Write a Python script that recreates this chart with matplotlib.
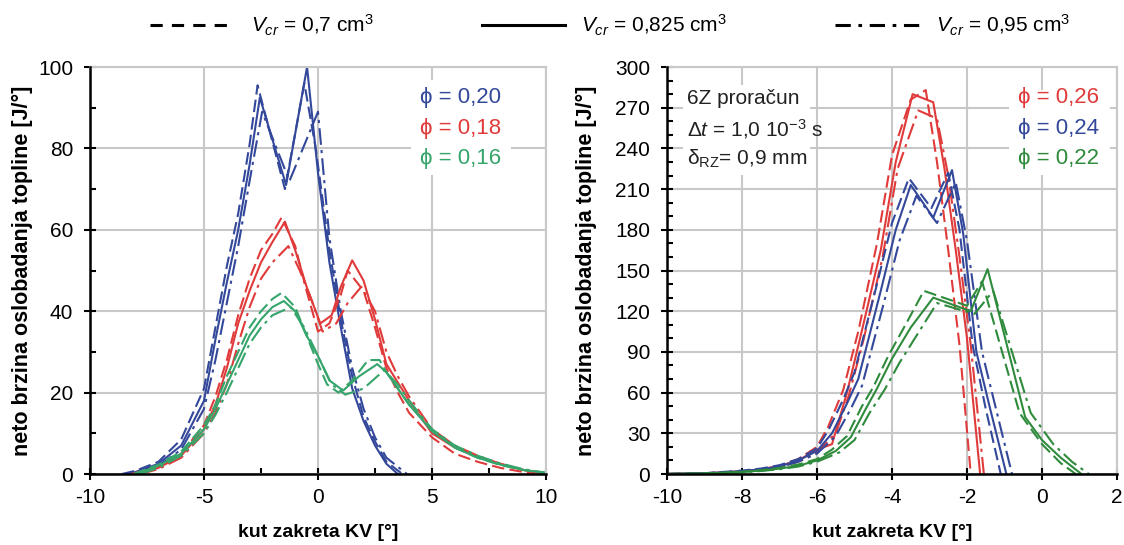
import matplotlib
matplotlib.use("Agg")
import matplotlib.pyplot as plt
from matplotlib.lines import Line2D
from matplotlib.patches import Rectangle
from matplotlib.ticker import MultipleLocator

plt.rcParams["font.family"] = ["Liberation Sans", "DejaVu Sans"]
plt.rcParams["mathtext.fontset"] = "custom"
plt.rcParams["mathtext.rm"] = "Liberation Sans"
plt.rcParams["mathtext.it"] = "Liberation Sans:italic"
plt.rcParams["axes.unicode_minus"] = False

# --- left panel: phi = 0.20 / 0.18 / 0.16 ---
# blue, phi = 0.20
lb_x_dash = [-8.6, -8, -7, -6, -5, -4.5, -4, -3.5, -3, -2.65, -1.45, -0.6, -0.1, 0.5, 1, 1.5, 2, 2.5, 3, 3.7]
lb_y_dash = [0, 0.8, 3, 8.5, 21, 36, 51, 64, 81, 95.5, 70, 96, 80, 55, 38, 24, 14, 8, 3, 0]
lb_x_solid = [-8.4, -8, -7, -6, -5, -4.5, -4, -3.5, -3, -2.55, -1.4, -0.48, 0, 0.5, 1, 1.5, 2, 2.5, 3, 3.5]
lb_y_solid = [0, 0.5, 2.5, 7, 18, 33, 47, 60, 76, 92.5, 71, 100, 74, 52, 36, 21, 13, 7, 2.5, 0]
lb_x_dd = [-8.3, -8, -7, -6, -5, -4.5, -4, -3.5, -3, -2.45, -1.25, 0.0, 0.5, 1, 1.5, 2, 2.5, 3, 3.9]
lb_y_dd = [0, 0.4, 2, 6, 16, 28, 42, 56, 72, 89, 72, 89, 58, 40, 26, 16, 9, 4, 0]

# red, phi = 0.18
lr_x_dash = [-8.2, -7, -6, -5, -4.5, -4, -3.5, -3, -2.5, -2, -1.6, -1, -0.5, 0.0, 0.5, 1.0, 1.3, 2.0, 2.5, 3, 3.5, 4, 5, 6, 7, 8, 9, 9.5]
lr_y_dash = [0, 1.8, 5, 12, 19, 28, 39, 48, 55, 59, 63, 56, 45, 35, 37, 44, 50, 45, 36, 26, 20, 15, 9, 5, 3, 1.5, 0.5, 0]
lr_x_solid = [-8.0, -7, -6, -5, -4.5, -4, -3.5, -3, -2.5, -2, -1.45, -1, -0.5, 0.1, 0.6, 1.0, 1.5, 2.0, 2.5, 3, 3.5, 4, 5, 6, 7, 8, 9, 10]
lr_y_solid = [0, 1.5, 4.5, 11, 17, 26, 37, 45, 52, 57, 62, 55, 46, 37, 39, 46, 52.5, 47.5, 38, 27, 22.5, 18, 10, 6.5, 4.2, 2.5, 1, 0]
lr_x_dd = [-7.8, -7, -6, -5, -4.5, -4, -3.5, -3, -2.5, -2, -1.3, -0.8, -0.3, 0.2, 0.8, 1.3, 1.9, 2.5, 3, 3.5, 4, 5, 6, 7, 8, 9, 10]
lr_y_dd = [0, 1.2, 4, 10, 15, 22, 32, 41, 48, 52, 56, 50, 43, 35, 37, 42, 46, 40, 30, 24, 19, 11, 7, 4.5, 2.5, 1, 0]

# green, phi = 0.16
lg_x_dash = [-8.1, -7, -6, -5, -4.5, -4, -3.5, -3, -2.5, -2, -1.6, -1, -0.5, 0, 0.4, 0.9, 1.5, 2.2, 2.7, 3, 3.5, 4, 5, 6, 7, 8, 9, 10]
lg_y_dash = [0, 2.3, 5.5, 12, 17, 24, 30, 36, 40, 43, 44.5, 41, 34, 27, 22, 20, 23, 28, 28, 25, 21, 17, 11, 6.5, 4, 2.2, 1, 0.2]
lg_x_solid = [-8.0, -7, -6, -5, -4.5, -4, -3.5, -3, -2.5, -2, -1.5, -1, -0.5, 0, 0.5, 1.1, 1.8, 2.6, 3, 3.5, 4, 5, 6, 7, 8, 9, 10]
lg_y_solid = [0, 2, 5, 11, 16, 22, 28, 34, 38, 41, 42.5, 40, 34, 29, 23, 20.5, 24, 27, 25, 21, 17, 10.5, 6.5, 4, 2.3, 1, 0.3]
lg_x_dd = [-7.8, -7, -6, -5, -4.5, -4, -3.5, -3, -2.5, -2, -1.2, -0.6, 0, 0.6, 1.2, 2.0, 2.9, 3.5, 4, 5, 6, 7, 8, 9, 10]
lg_y_dd = [0, 1.5, 4.5, 10, 14.5, 20, 26, 32, 36, 39, 41, 36, 29, 22, 19.5, 21, 25.5, 22, 18, 11, 7, 4.5, 2.6, 1.2, 0.3]

# --- right panel: phi = 0.26 / 0.24 / 0.22 ---
rr_x_dash = [-10, -9, -8, -7.5, -7, -6.5, -6, -5.7, -5.3, -4.9, -4.4, -4.0, -3.5, -3.1, -2.8, -2.5, -2.2, -1.9]
rr_y_dash = [0, 0.5, 2, 3.5, 6, 11, 20, 35, 62, 105, 170, 235, 276, 283, 230, 165, 95, 0]
rr_x_solid = [-10, -9, -8, -7.5, -7, -6.5, -6, -5.6, -5.2, -4.8, -4.3, -3.9, -3.45, -2.9, -2.6, -2.3, -2.0, -1.65]
rr_y_solid = [0, 0.5, 2, 3.5, 6, 10, 18, 22, 60, 106, 165, 230, 280, 274, 225, 165, 100, 0]
rr_x_dd = [-10, -9, -8, -7.5, -7, -6.5, -6, -5.5, -5.15, -4.75, -4.25, -3.85, -3.3, -2.8, -2.5, -2.2, -1.9, -1.55]
rr_y_dd = [0, 0.4, 1.8, 3, 5.5, 9, 16, 30, 58, 100, 160, 225, 268, 262, 220, 160, 95, 0]

rb_x_dash = [-10, -9, -8, -7.5, -7, -6.5, -6, -5.7, -5.3, -5.0, -4.4, -4.0, -3.55, -2.95, -2.5, -2.2, -1.85, -1.5, -1.1]
rb_y_dash = [0, 0.6, 2.5, 4, 6.5, 11, 19, 32, 55, 75, 140, 185, 218, 196, 222, 180, 95, 48, 0]
rb_x_solid = [-10, -9, -8, -7.5, -7, -6.5, -6, -5.6, -5.2, -4.9, -4.3, -3.9, -3.5, -2.9, -2.4, -2.1, -1.75, -1.4, -0.95]
rb_y_solid = [0, 0.5, 2, 3.5, 5.5, 10, 17, 30, 52, 70, 135, 180, 213, 189, 224, 177, 90, 50, 0]
rb_x_dd = [-10, -9, -8, -7.5, -7, -6.5, -6, -5.5, -5.1, -4.8, -4.2, -3.8, -3.35, -2.8, -2.3, -2.0, -1.6, -1.2, -0.8]
rb_y_dd = [0, 0.4, 1.8, 3, 5, 9, 15, 28, 48, 65, 128, 172, 205, 185, 215, 172, 90, 45, 0]

rg_x_dash = [-10, -9, -8, -7.5, -7, -6.5, -6, -5.6, -5.2, -4.8, -4.5, -4.1, -3.6, -3.15, -2.0, -1.6, -0.6, 0, 0.5, 0.9]
rg_y_dash = [0, 0.3, 1.6, 2.8, 4.5, 7, 11, 18, 28, 50, 64, 87, 112, 135, 124, 142, 45, 22, 8, 0]
rg_x_solid = [-10, -9, -8, -7.5, -7, -6.5, -6, -5.5, -5.1, -4.7, -4.4, -4.0, -3.5, -2.9, -1.9, -1.45, -0.45, 0, 0.5, 1.05]
rg_y_solid = [0, 0.3, 1.5, 2.5, 4, 6, 10, 17, 27, 48, 63, 85, 108, 130, 120, 151, 42, 25, 12, 0]
rg_x_dd = [-10, -9, -8, -7.5, -7, -6.5, -6, -5.4, -5.0, -4.6, -4.2, -3.8, -3.3, -2.8, -1.8, -1.3, -0.3, 0.3, 0.8, 1.25]
rg_y_dd = [0, 0.2, 1.2, 2.2, 3.5, 5.5, 9, 16, 25, 45, 62, 82, 104, 126, 118, 135, 45, 22, 9, 0]

blue = "#33489a"
red = "#e03a3a"
green_l = "#35a56b"
green_r = "#2e8b3c"

dash_style = (0, (6, 2.5))
dd_style = (0, (8, 2.5, 1.5, 2.5))

fig = plt.figure(figsize=(11.24, 5.45), dpi=100)
ax1 = fig.add_axes([90 / 1124, 71 / 545, 456 / 1124, 407 / 545])
ax2 = fig.add_axes([667 / 1124, 71 / 545, 450 / 1124, 407 / 545])


def style_axis(ax, xmaj, xmin, ymaj, ymin, ylab_x):
    ax.set_axisbelow(True)
    ax.grid(True, which="major", color="#c8c8c8", lw=1.5)
    ax.xaxis.set_major_locator(MultipleLocator(xmaj))
    ax.yaxis.set_major_locator(MultipleLocator(ymaj))
    if xmin:
        ax.xaxis.set_minor_locator(MultipleLocator(xmin))
    if ymin:
        ax.yaxis.set_minor_locator(MultipleLocator(ymin))
    for s in ("top", "right"):
        ax.spines[s].set_color("#c8c8c8")
        ax.spines[s].set_linewidth(1.5)
    for s in ("left", "bottom"):
        ax.spines[s].set_linewidth(1.8)
        ax.spines[s].set_zorder(3)
    ax.tick_params(which="major", direction="inout", length=8, width=1.5,
                   labelsize=15, colors="black")
    ax.tick_params(axis="y", which="major", pad=8)
    ax.tick_params(axis="x", which="major", pad=6)
    ax.tick_params(which="minor", direction="in", length=4, width=1.5)
    ax.tick_params(top=False, right=False, which="both")
    ax.set_xlabel("kut zakreta KV [°]", fontsize=14, fontweight="bold")
    ax.set_ylabel("neto brzina oslobadanja topline [J/°]", fontsize=15.5, fontweight="bold")
    ax.xaxis.set_label_coords(0.5, -0.122)
    ax.yaxis.set_label_coords(ylab_x, 0.5)


def draw_set(ax, color, xd, yd, xs, ys, xdd, ydd):
    ax.plot(xd, yd, color=color, lw=1.5, linestyle=dash_style, zorder=2)
    ax.plot(xs, ys, color=color, lw=1.5, linestyle="-", zorder=2)
    ax.plot(xdd, ydd, color=color, lw=1.5, linestyle=dd_style, zorder=2)


def white_box(ax, x0, y0, x1, y1):
    ax.add_patch(Rectangle((x0, y0), x1 - x0, y1 - y0, transform=ax.transAxes,
                           facecolor="white", edgecolor="none", zorder=1))


# left
style_axis(ax1, 5, 2.5, 20, 10, -0.125)
ax1.set_xlim(-10, 10)
ax1.set_ylim(0, 100)
draw_set(ax1, blue, lb_x_dash, lb_y_dash, lb_x_solid, lb_y_solid, lb_x_dd, lb_y_dd)
draw_set(ax1, red, lr_x_dash, lr_y_dash, lr_x_solid, lr_y_solid, lr_x_dd, lr_y_dd)
draw_set(ax1, green_l, lg_x_dash, lg_y_dash, lg_x_solid, lg_y_solid, lg_x_dd, lg_y_dd)

white_box(ax1, 0.704, 0.735, 0.923, 0.968)
for yy, txt, c in [(0.924, "ϕ = 0,20", blue), (0.848, "ϕ = 0,18", red), (0.776, "ϕ = 0,16", green_l)]:
    ax1.text(0.724, yy, txt, color=c, fontsize=16, va="center", ha="left",
             transform=ax1.transAxes, zorder=4)

# right
style_axis(ax2, 2, None, 30, 10, -0.156)
ax2.set_xlim(-10, 2)
ax2.set_ylim(0, 300)
draw_set(ax2, red, rr_x_dash, rr_y_dash, rr_x_solid, rr_y_solid, rr_x_dd, rr_y_dd)
draw_set(ax2, blue, rb_x_dash, rb_y_dash, rb_x_solid, rb_y_solid, rb_x_dd, rb_y_dd)
draw_set(ax2, green_r, rg_x_dash, rg_y_dash, rg_x_solid, rg_y_solid, rg_x_dd, rg_y_dd)

white_box(ax2, 0.036, 0.735, 0.318, 0.956)
white_box(ax2, 0.76, 0.735, 0.984, 0.944)
for yy, txt in [(0.922, "6Z proračun"), (0.848, r"$\Delta t$ = 1,0 10$^{-3}$ s"),
                (0.774, r"δ$_{\mathrm{RZ}}$= 0,9 mm")]:
    ax2.text(0.045, yy, txt, color="#222222", fontsize=15, va="center", ha="left",
             transform=ax2.transAxes, zorder=4)
for yy, txt, c in [(0.924, "ϕ = 0,26", red), (0.850, "ϕ = 0,24", blue), (0.776, "ϕ = 0,22", green_r)]:
    ax2.text(0.78, yy, txt, color=c, fontsize=16, va="center", ha="left",
             transform=ax2.transAxes, zorder=4)

# top legend, drawn by hand
leg_y = 1 - 25 / 545
for x0, x1, ls, label in [(150, 235, (0, (4, 3)), r"$V_{cr}$ = 0,7 cm$^3$"),
                          (482, 565, "-", r"$V_{cr}$ = 0,825 cm$^3$"),
                          (835, 920, (0, (5, 2.5, 1.2, 2.5)), r"$V_{cr}$ = 0,95 cm$^3$")]:
    fig.add_artist(Line2D([x0 / 1124, x1 / 1124], [leg_y, leg_y], color="black",
                          lw=2.2, linestyle=ls))
    fig.text((x1 + 16) / 1124, leg_y, label, fontsize=15, va="center", ha="left")

fig.savefig("out.png", dpi=100)
